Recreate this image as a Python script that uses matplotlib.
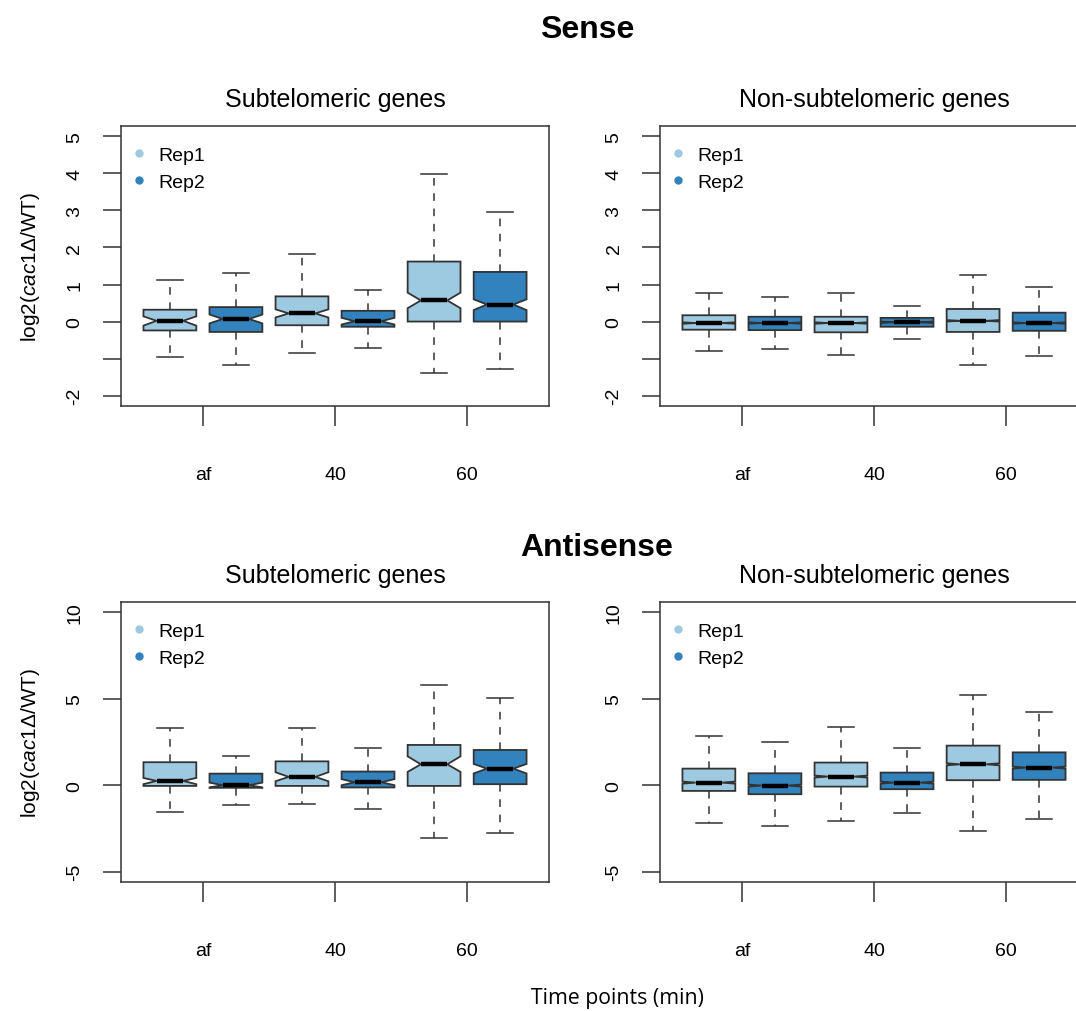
import numpy as np
import matplotlib.pyplot as plt
from matplotlib.lines import Line2D

plt.rcParams['font.family'] = ['Liberation Sans', 'DejaVu Sans']
plt.rcParams['mathtext.fontset'] = 'custom'
plt.rcParams['mathtext.rm'] = 'Liberation Sans'
plt.rcParams['mathtext.it'] = 'Liberation Sans:italic'

# Datos
time_points = ['af', '40', '60']
reps = ['Rep1', 'Rep2']
rep_colors = ['#9ecae1', '#3182bd']

# columnas: whislo, q1, med, q3, whishi, cilo, cihi
# filas: af-Rep1, af-Rep2, 40-Rep1, 40-Rep2, 60-Rep1, 60-Rep2
sense_sub = [
    [-0.97, -0.24, 0.02, 0.32, 1.13, -0.11, 0.14],
    [-1.17, -0.28, 0.07, 0.39, 1.30, -0.05, 0.19],
    [-0.86, -0.10, 0.22, 0.68, 1.83, 0.11, 0.33],
    [-0.71, -0.14, 0.01, 0.29, 0.84, -0.08, 0.10],
    [-1.40, 0.00, 0.57, 1.62, 3.98, 0.36, 0.78],
    [-1.28, 0.00, 0.46, 1.34, 2.95, 0.31, 0.60],
]
sense_nonsub = [
    [-0.80, -0.22, -0.04, 0.17, 0.76, -0.06, -0.02],
    [-0.74, -0.23, -0.04, 0.13, 0.67, -0.06, -0.02],
    [-0.91, -0.29, -0.04, 0.13, 0.76, -0.06, -0.02],
    [-0.46, -0.14, -0.02, 0.10, 0.43, -0.04, 0.00],
    [-1.18, -0.28, 0.02, 0.34, 1.26, 0.00, 0.04],
    [-0.94, -0.25, -0.04, 0.24, 0.94, -0.06, -0.02],
]
anti_sub = [
    [-1.54, -0.04, 0.25, 1.33, 3.31, 0.06, 0.42],
    [-1.15, -0.15, 0.00, 0.67, 1.67, -0.13, 0.15],
    [-1.10, -0.04, 0.48, 1.38, 3.33, 0.23, 0.75],
    [-1.38, -0.13, 0.17, 0.79, 2.15, 0.00, 0.35],
    [-3.04, -0.04, 1.21, 2.33, 5.77, 0.77, 1.67],
    [-2.77, 0.06, 0.96, 2.04, 5.02, 0.68, 1.23],
]
anti_nonsub = [
    [-2.19, -0.33, 0.15, 0.96, 2.87, 0.09, 0.21],
    [-2.35, -0.52, -0.02, 0.69, 2.48, -0.08, 0.04],
    [-2.08, -0.08, 0.50, 1.31, 3.35, 0.44, 0.56],
    [-1.63, -0.23, 0.15, 0.73, 2.15, 0.09, 0.21],
    [-2.65, 0.29, 1.21, 2.29, 5.23, 1.15, 1.27],
    [-1.94, 0.31, 1.02, 1.90, 4.23, 0.96, 1.08],
]

W, H = 1076, 1012
fig = plt.figure(figsize=(W / 100, H / 100), dpi=100)
edge = '#333333'


def add_panel(left, top, w=428, h=280):
    return fig.add_axes([left / W, 1 - (top + h) / H, w / W, h / H])


def draw_panel(ax, rows, title, yticks, ylabels, ylim, ylabel=False):
    stats = [dict(whislo=r[0], q1=r[1], med=r[2], q3=r[3], whishi=r[4],
                  cilo=r[5], cihi=r[6], fliers=[]) for r in rows]
    pos = np.arange(1, len(rows) + 1)
    bp = ax.bxp(stats, positions=pos, widths=0.8, shownotches=True,
                patch_artist=True, showfliers=False, manage_ticks=False,
                boxprops=dict(edgecolor=edge, linewidth=1.3),
                whiskerprops=dict(color=edge, linestyle=(0, (5, 5)), linewidth=1.1),
                capprops=dict(color=edge, linewidth=1.1),
                medianprops=dict(color='black', linewidth=3.2, solid_capstyle='butt'))
    for i, patch in enumerate(bp['boxes']):
        patch.set_facecolor(rep_colors[i % 2])

    ax.set_xlim(0.26, 6.74)
    ax.set_ylim(*ylim)
    ax.set_xticks([1.5, 3.5, 5.5])
    ax.set_xticklabels(time_points, fontsize=14)
    ax.set_yticks(yticks)
    ax.set_yticklabels(ylabels, fontsize=14, rotation=90, va='center')
    ax.tick_params(axis='x', length=14.5, width=1.1, color=edge, pad=29)
    ax.tick_params(axis='y', length=13, width=1.1, color=edge, pad=14)
    for sp in ax.spines.values():
        sp.set_color(edge)
        sp.set_linewidth(1.1)

    ax.text(0.5, 1 + 27 / 280, title, transform=ax.transAxes,
            ha='center', va='center', fontsize=18)

    handles = [Line2D([], [], marker='o', linestyle='none', markersize=6,
                      markerfacecolor=c, markeredgecolor='none') for c in rep_colors]
    ax.legend(handles, reps, loc='upper left', bbox_to_anchor=(0.03, 0.927),
              frameon=False, fontsize=14, handlelength=0.5, handletextpad=0.75,
              labelspacing=0.46, borderpad=0, borderaxespad=0)
    if ylabel:
        ax.set_ylabel(r'log2($\mathit{cac1}$Δ/WT)', fontsize=15)
        ax.yaxis.set_label_coords(-79 / 428, 0.5)


sense_ticks = [-2, -1, 0, 1, 2, 3, 4, 5]
sense_labels = ['-2', '', '0', '1', '2', '3', '4', '5']
anti_ticks = [-5, 0, 5, 10]
anti_labels = ['-5', '0', '5', '10']

ax1 = add_panel(121, 127)
draw_panel(ax1, sense_sub, 'Subtelomeric genes', sense_ticks, sense_labels, (-2.28, 5.28), True)
ax2 = add_panel(660, 127)
draw_panel(ax2, sense_nonsub, 'Non-subtelomeric genes', sense_ticks, sense_labels, (-2.28, 5.28))
ax3 = add_panel(121, 603)
draw_panel(ax3, anti_sub, 'Subtelomeric genes', anti_ticks, anti_labels, (-5.6, 10.6), True)
ax4 = add_panel(660, 603)
draw_panel(ax4, anti_nonsub, 'Non-subtelomeric genes', anti_ticks, anti_labels, (-5.6, 10.6))

fig.text(587 / W, 1 - 30 / H, 'Sense', ha='center', va='center', fontsize=23, fontweight='bold')
fig.text(597 / W, 1 - 548 / H, 'Antisense', ha='center', va='center', fontsize=23, fontweight='bold')
fig.text(617 / W, 1 - 999 / H, 'Time points (min)', ha='center', va='center',
         fontsize=15.3, family=['Open Sans', 'DejaVu Sans'])

fig.savefig('out.png', dpi=100)
